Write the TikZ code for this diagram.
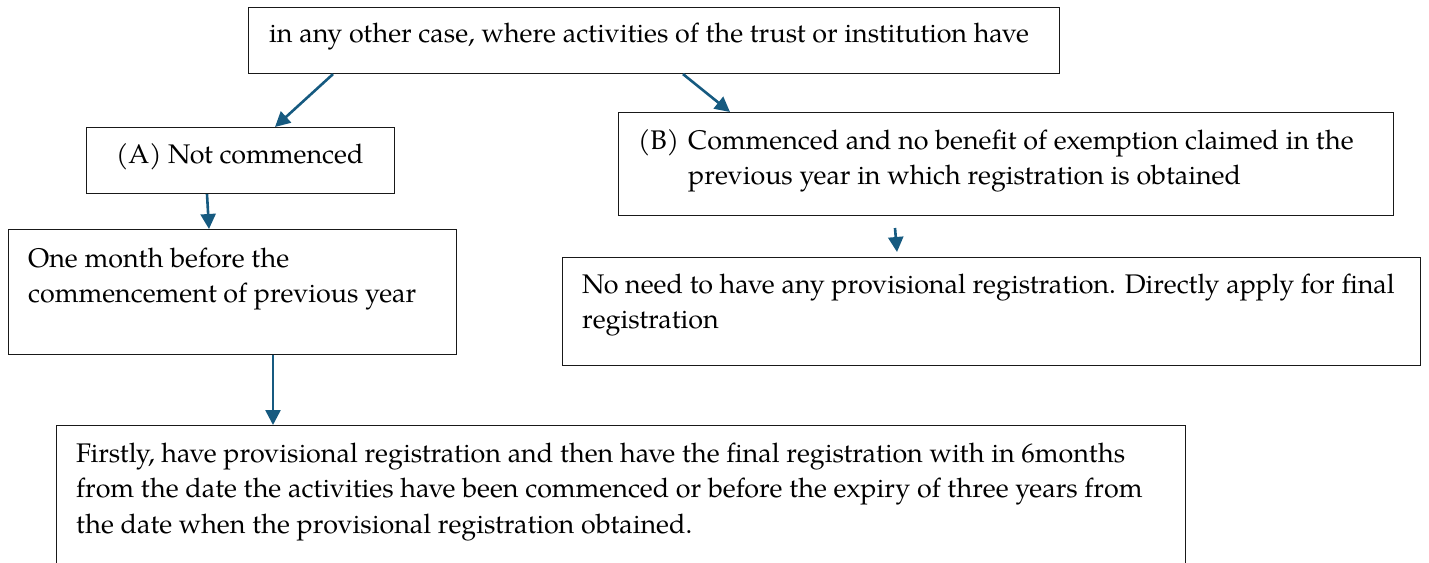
\documentclass[tikz,border=0pt]{standalone}
\usepackage{fontspec}
\setmainfont{TeX Gyre Pagella}
\usetikzlibrary{arrows.meta,calc}
\definecolor{flowblue}{HTML}{165A80}
\newcommand\boxlines[1]{\begin{tabular}[t]{@{}l@{}}#1\end{tabular}}
\begin{document}
\begin{tikzpicture}[x=1pt,y=-1pt,
  box/.style={draw=black!90,line width=1.1pt,rectangle,anchor=north west,inner sep=0pt},
  txt/.style={anchor=base west,inner sep=0pt,font=\fontsize{26.9}{35.5}\selectfont},
  arr/.style={draw=flowblue,line width=2.6pt,-{Triangle[length=15pt,width=15pt]}}]
\useasboundingbox (0,0) rectangle (1429,562);
\clip (0,0) rectangle (1429,562);

% boxes
\node[box,minimum width=811pt,minimum height=66pt]  (top) at (248,7)   {};
\node[box,minimum width=308pt,minimum height=66pt]  (A)   at (86,127)  {};
\node[box,minimum width=775pt,minimum height=103pt] (B)   at (618,112) {};
\node[box,minimum width=448pt,minimum height=125pt] (M)   at (8,229)   {};
\node[box,minimum width=858pt,minimum height=108pt] (N)   at (562,257) {};
\node[box,minimum width=1129pt,minimum height=160pt](F)   at (56,425)  {};

% texts
\node[txt] (ttop) at (269,42) {in any other case, where activities of the trust or institution have};
\node[txt] (tA) at (116,163) {\makebox[52pt][l]{(A)}Not commenced};
\node[txt] (tB) at (638,149) {\boxlines{\makebox[50pt][l]{(B)}Commenced and no benefit of exemption claimed in the\\
  \hspace{50pt}previous year in which registration is obtained}};
\node[txt] (tM) at (28,267) {\boxlines{One month before the\\commencement of previous year}};
\node[txt] (tN) at (582,293) {\boxlines{No need to have any provisional registration. Directly apply for final\\registration}};
\node[txt] (tF) at (76,462) {\boxlines{Firstly, have provisional registration and then have the final registration with in 6months\\
  from the date the activities have been commenced or before the expiry of three years from\\
  the date when the provisional registration obtained.}};

% connectors
\coordinate (bfrom) at (895,228);
\coordinate (bto)   at (897,252);
\draw[arr] ($(top.south west)+(85,0)$)  -- ($(A.north west)+(189,0)$);
\draw[arr] ($(top.south west)+(435,0)$) -- ($(B.north west)+(112,0)$);
\draw[arr] ($(A.south west)+(121,0)$)   -- ($(M.north west)+(201,0)$);
\draw[arr] (bfrom) -- (bto);
\draw[arr] ($(M.south west)+(265,0)$)   -- ($(F.north west)+(217,0)$);
\end{tikzpicture}
\end{document}
